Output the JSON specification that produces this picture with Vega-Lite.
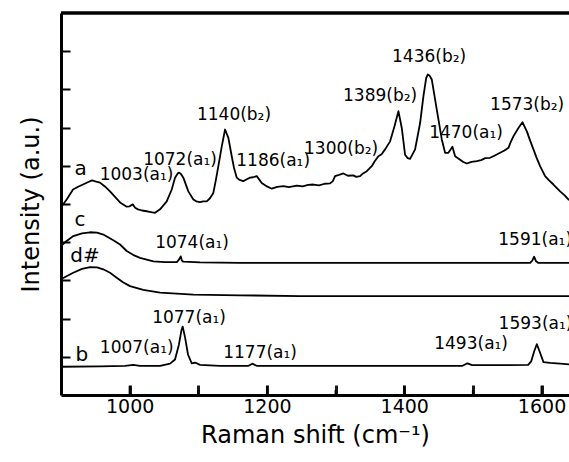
{
  "$schema": "https://vega.github.io/schema/vega-lite/v6.json",
  "width": 508,
  "height": 382,
  "autosize": {"type": "none"},
  "padding": {"left": 61, "top": 13, "right": 0, "bottom": 67},
  "background": "white",
  "config": {
    "view": {"stroke": null},
    "font": "DejaVu Sans",
    "axis": {"grid": false, "domainColor": "#000", "domainWidth": 3, "tickColor": "#000", "tickWidth": 2, "labelColor": "#000", "titleColor": "#000", "labelFont": "DejaVu Sans", "titleFont": "DejaVu Sans", "titleFontWeight": "normal"}
  },
  "datasets": {
    "spectra": [
      {"s":"a","x":901,"y":4.94},{"s":"a","x":908.3,"y":5.12},{"s":"a","x":917.5,"y":5.38},{"s":"a","x":925,"y":5.45},{"s":"a","x":932,"y":5.51},{"s":"a","x":939,"y":5.57},{"s":"a","x":945.2,"y":5.62},{"s":"a","x":950,"y":5.59},{"s":"a","x":956.8,"y":5.56},{"s":"a","x":964,"y":5.46},{"s":"a","x":971.4,"y":5.33},{"s":"a","x":978,"y":5.2},{"s":"a","x":986,"y":5.04},{"s":"a","x":995.7,"y":4.93},{"s":"a","x":1000,"y":4.94},{"s":"a","x":1004.5,"y":4.99},{"s":"a","x":1008,"y":4.9},{"s":"a","x":1012.2,"y":4.86},{"s":"a","x":1018,"y":4.83},{"s":"a","x":1024.9,"y":4.81},{"s":"a","x":1031,"y":4.79},{"s":"a","x":1037,"y":4.77},{"s":"a","x":1044.3,"y":4.86},{"s":"a","x":1054,"y":5.07},{"s":"a","x":1061.3,"y":5.38},{"s":"a","x":1066.1,"y":5.69},{"s":"a","x":1070,"y":5.8},{"s":"a","x":1072.4,"y":5.82},{"s":"a","x":1075,"y":5.78},{"s":"a","x":1078.2,"y":5.69},{"s":"a","x":1085.5,"y":5.33},{"s":"a","x":1092.8,"y":5.12},{"s":"a","x":1097,"y":5.07},{"s":"a","x":1102.5,"y":5.05},{"s":"a","x":1107,"y":5.07},{"s":"a","x":1112.3,"y":5.07},{"s":"a","x":1117,"y":5.15},{"s":"a","x":1121.9,"y":5.29},{"s":"a","x":1125.5,"y":5.62},{"s":"a","x":1129.2,"y":5.99},{"s":"a","x":1134.2,"y":6.51},{"s":"a","x":1139,"y":6.95},{"s":"a","x":1143.8,"y":6.73},{"s":"a","x":1148.7,"y":6.25},{"s":"a","x":1152,"y":5.95},{"s":"a","x":1156,"y":5.69},{"s":"a","x":1160,"y":5.63},{"s":"a","x":1165.6,"y":5.6},{"s":"a","x":1170,"y":5.64},{"s":"a","x":1175.4,"y":5.69},{"s":"a","x":1180,"y":5.7},{"s":"a","x":1185.2,"y":5.73},{"s":"a","x":1192.4,"y":5.55},{"s":"a","x":1200,"y":5.46},{"s":"a","x":1207,"y":5.4},{"s":"a","x":1215,"y":5.45},{"s":"a","x":1223.9,"y":5.47},{"s":"a","x":1232,"y":5.44},{"s":"a","x":1243.4,"y":5.48},{"s":"a","x":1252,"y":5.46},{"s":"a","x":1260,"y":5.5},{"s":"a","x":1267.6,"y":5.51},{"s":"a","x":1276,"y":5.49},{"s":"a","x":1284,"y":5.53},{"s":"a","x":1292,"y":5.54},{"s":"a","x":1296,"y":5.6},{"s":"a","x":1299.2,"y":5.73},{"s":"a","x":1305,"y":5.76},{"s":"a","x":1311.3,"y":5.8},{"s":"a","x":1318,"y":5.74},{"s":"a","x":1325.9,"y":5.75},{"s":"a","x":1330,"y":5.71},{"s":"a","x":1335.7,"y":5.73},{"s":"a","x":1340,"y":5.8},{"s":"a","x":1345.4,"y":5.86},{"s":"a","x":1352.7,"y":5.99},{"s":"a","x":1357,"y":6.12},{"s":"a","x":1362.3,"y":6.25},{"s":"a","x":1367,"y":6.3},{"s":"a","x":1372.1,"y":6.43},{"s":"a","x":1379.4,"y":6.64},{"s":"a","x":1385.7,"y":7.03},{"s":"a","x":1391.5,"y":7.43},{"s":"a","x":1396.4,"y":6.99},{"s":"a","x":1401.2,"y":6.29},{"s":"a","x":1405,"y":6.2},{"s":"a","x":1408.5,"y":6.18},{"s":"a","x":1415.8,"y":6.43},{"s":"a","x":1423.1,"y":7.12},{"s":"a","x":1427.9,"y":7.82},{"s":"a","x":1432,"y":8.3},{"s":"a","x":1434.3,"y":8.39},{"s":"a","x":1437,"y":8.36},{"s":"a","x":1440.1,"y":8.26},{"s":"a","x":1447.4,"y":7.47},{"s":"a","x":1454.7,"y":6.69},{"s":"a","x":1459.5,"y":6.34},{"s":"a","x":1464.3,"y":6.34},{"s":"a","x":1470.2,"y":6.5},{"s":"a","x":1474.1,"y":6.25},{"s":"a","x":1481.4,"y":6.16},{"s":"a","x":1486,"y":6.1},{"s":"a","x":1491.1,"y":6.06},{"s":"a","x":1498,"y":6.1},{"s":"a","x":1505.7,"y":6.12},{"s":"a","x":1512,"y":6.15},{"s":"a","x":1518,"y":6.2},{"s":"a","x":1525.1,"y":6.21},{"s":"a","x":1532,"y":6.27},{"s":"a","x":1539.7,"y":6.34},{"s":"a","x":1546,"y":6.4},{"s":"a","x":1551.8,"y":6.47},{"s":"a","x":1555,"y":6.62},{"s":"a","x":1559,"y":6.77},{"s":"a","x":1566.3,"y":6.99},{"s":"a","x":1572.2,"y":7.14},{"s":"a","x":1578.6,"y":6.9},{"s":"a","x":1583,"y":6.68},{"s":"a","x":1588.2,"y":6.43},{"s":"a","x":1593,"y":6.2},{"s":"a","x":1597.9,"y":5.99},{"s":"a","x":1605.2,"y":5.73},{"s":"a","x":1611,"y":5.62},{"s":"a","x":1617.3,"y":5.51},{"s":"a","x":1627.1,"y":5.33},{"s":"a","x":1634,"y":5.22},{"s":"a","x":1640,"y":5.1},

      {"s":"c","x":900,"y":3.9},{"s":"c","x":907.3,"y":4.02},{"s":"c","x":917.9,"y":4.16},{"s":"c","x":930.6,"y":4.23},{"s":"c","x":942.3,"y":4.26},{"s":"c","x":952.5,"y":4.25},{"s":"c","x":961.6,"y":4.2},{"s":"c","x":976.2,"y":4.05},{"s":"c","x":986,"y":3.94},{"s":"c","x":995.7,"y":3.77},{"s":"c","x":1004.9,"y":3.67},{"s":"c","x":1015.1,"y":3.59},{"s":"c","x":1034.5,"y":3.5},{"s":"c","x":1051.5,"y":3.48},{"s":"c","x":1069,"y":3.48},{"s":"c","x":1072,"y":3.55},{"s":"c","x":1074.4,"y":3.63},{"s":"c","x":1076,"y":3.52},{"s":"c","x":1078.2,"y":3.49},{"s":"c","x":1102.5,"y":3.47},{"s":"c","x":1160.8,"y":3.46},{"s":"c","x":1248.3,"y":3.46},{"s":"c","x":1394,"y":3.46},{"s":"c","x":1539.7,"y":3.46},{"s":"c","x":1583.4,"y":3.46},{"s":"c","x":1586.5,"y":3.52},{"s":"c","x":1589.2,"y":3.62},{"s":"c","x":1592,"y":3.5},{"s":"c","x":1595,"y":3.46},{"s":"c","x":1640,"y":3.46},

      {"s":"d","x":900,"y":3.03},{"s":"d","x":907.3,"y":3.1},{"s":"d","x":917.9,"y":3.2},{"s":"d","x":930.6,"y":3.3},{"s":"d","x":942.3,"y":3.35},{"s":"d","x":952.5,"y":3.34},{"s":"d","x":961.6,"y":3.29},{"s":"d","x":971.4,"y":3.2},{"s":"d","x":981.2,"y":3.07},{"s":"d","x":990.3,"y":2.95},{"s":"d","x":1000.5,"y":2.85},{"s":"d","x":1019.9,"y":2.75},{"s":"d","x":1044.3,"y":2.68},{"s":"d","x":1092.8,"y":2.63},{"s":"d","x":1160.8,"y":2.61},{"s":"d","x":1248.3,"y":2.59},{"s":"d","x":1394,"y":2.59},{"s":"d","x":1640,"y":2.59},

      {"s":"b","x":900,"y":0.74},{"s":"b","x":956.8,"y":0.75},{"s":"b","x":993.3,"y":0.76},{"s":"b","x":1005.3,"y":0.79},{"s":"b","x":1015.1,"y":0.76},{"s":"b","x":1044.3,"y":0.76},{"s":"b","x":1058.8,"y":0.82},{"s":"b","x":1066.1,"y":0.93},{"s":"b","x":1071.9,"y":1.33},{"s":"b","x":1075.5,"y":1.7},{"s":"b","x":1077.3,"y":1.79},{"s":"b","x":1080.7,"y":1.51},{"s":"b","x":1085,"y":1.06},{"s":"b","x":1090.4,"y":0.83},{"s":"b","x":1095.3,"y":0.85},{"s":"b","x":1102.5,"y":0.79},{"s":"b","x":1131.7,"y":0.76},{"s":"b","x":1172.5,"y":0.76},{"s":"b","x":1178.7,"y":0.82},{"s":"b","x":1185.6,"y":0.76},{"s":"b","x":1248.3,"y":0.76},{"s":"b","x":1394,"y":0.76},{"s":"b","x":1484.3,"y":0.76},{"s":"b","x":1492,"y":0.83},{"s":"b","x":1498.9,"y":0.78},{"s":"b","x":1539.7,"y":0.78},{"s":"b","x":1580.5,"y":0.79},{"s":"b","x":1584.9,"y":0.88},{"s":"b","x":1589.2,"y":1.14},{"s":"b","x":1593.1,"y":1.33},{"s":"b","x":1597.2,"y":1.14},{"s":"b","x":1602.8,"y":0.86},{"s":"b","x":1612.5,"y":0.84},{"s":"b","x":1627.1,"y":0.82},{"s":"b","x":1640,"y":0.8}
    ],
    "peaks": [
      {"label":"1003(a₁)","x":1010,"y":5.77},
      {"label":"1072(a₁)","x":1073.4,"y":6.16},
      {"label":"1140(b₂)","x":1152,"y":7.34},
      {"label":"1186(a₁)","x":1209,"y":6.12},
      {"label":"1300(b₂)","x":1308,"y":6.43},
      {"label":"1389(b₂)","x":1364.8,"y":7.82},
      {"label":"1436(b₂)","x":1436.2,"y":8.86},
      {"label":"1470(a₁)","x":1490,"y":6.86},
      {"label":"1573(b₂)","x":1579,"y":7.58},
      {"label":"1074(a₁)","x":1090.9,"y":3.97},
      {"label":"1591(a₁)","x":1590.7,"y":4.07},
      {"label":"1077(a₁)","x":1086.5,"y":2.02},
      {"label":"1007(a₁)","x":1010.3,"y":1.24},
      {"label":"1177(a₁)","x":1190,"y":1.11},
      {"label":"1493(a₁)","x":1497.4,"y":1.33},
      {"label":"1593(a₁)","x":1591.2,"y":1.85}
    ],
    "names": [
      {"label":"a","x":928.7,"y":5.92},
      {"label":"c","x":927.7,"y":4.59},
      {"label":"d#","x":935,"y":3.63},
      {"label":"b","x":930.2,"y":1.06}
    ],
    "majorTicks": [{"t":1000},{"t":1200},{"t":1400},{"t":1600}],
    "minorTicks": [{"t":1100},{"t":1300},{"t":1500}]
  },
  "layer": [
    {
      "data": {"name": "spectra"},
      "mark": {"type": "line", "color": "#000", "strokeWidth": 1.8, "strokeJoin": "round", "clip": true},
      "encoding": {
        "x": {"field": "x", "type": "quantitative", "scale": {"domain": [900, 1640], "nice": false, "zero": false},
          "axis": {"title": "Raman shift (cm⁻¹)", "titleFontSize": 24, "titlePadding": 7, "labelFontSize": 19, "labelPadding": 12,
            "format": "d", "ticks": true, "tickColor": "#1a1a1a", "tickWidth": 3,
            "values": [1000, 1100, 1200, 1300, 1400, 1500, 1600],
            "labelExpr": "datum.value % 200 === 0 ? datum.label : ''",
            "tickSize": -10}},
        "y": {"field": "y", "type": "quantitative", "scale": {"domain": [0, 10], "nice": false, "zero": false},
          "axis": {"title": "Intensity (a.u.)", "titleFontSize": 24, "titlePadding": 17, "labels": false,
            "values": [1, 2, 3, 4, 5, 6, 7, 8, 9], "tickSize": -9}},
        "detail": {"field": "s"}
      }
    },
    {
      "data": {"name": "majorTicks"},
      "mark": {"type": "rule", "color": "#000", "strokeWidth": 2},
      "encoding": {
        "x": {"field": "t", "type": "quantitative"},
        "y": {"datum": 0},
        "y2": {"datum": 0.24}
      }
    },
    {
      "data": {"name": "minorTicks"},
      "mark": {"type": "rule", "color": "#000", "strokeWidth": 2},
      "encoding": {
        "x": {"field": "t", "type": "quantitative"},
        "y": {"datum": 0},
        "y2": {"datum": 0.13}
      }
    },
    {
      "data": {"values": [{}]},
      "mark": {"type": "rule", "color": "#000", "strokeWidth": 3.5},
      "encoding": {"y": {"datum": 10}}
    },
    {
      "data": {"name": "peaks"},
      "mark": {"type": "text", "fontSize": 17, "color": "#000", "baseline": "middle", "align": "center"},
      "encoding": {
        "x": {"field": "x", "type": "quantitative"},
        "y": {"field": "y", "type": "quantitative"},
        "text": {"field": "label"}
      }
    },
    {
      "data": {"name": "names"},
      "mark": {"type": "text", "fontSize": 20, "color": "#000", "baseline": "middle", "align": "center"},
      "encoding": {
        "x": {"field": "x", "type": "quantitative"},
        "y": {"field": "y", "type": "quantitative"},
        "text": {"field": "label"}
      }
    }
  ]
}
